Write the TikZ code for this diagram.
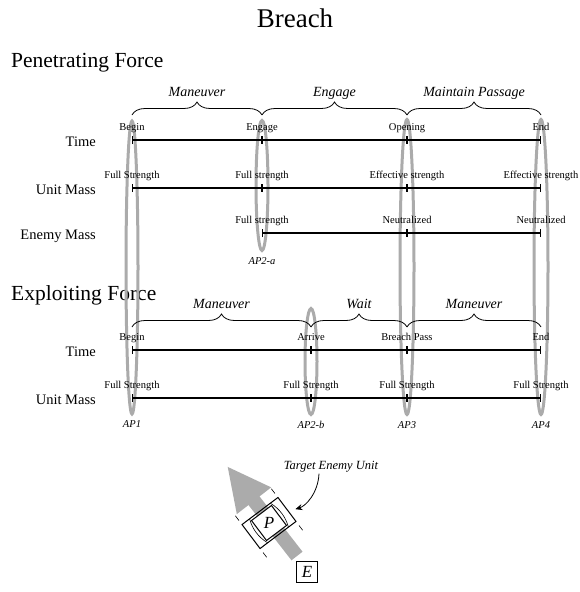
\documentclass[tikz,border=0pt]{standalone}
\usepackage{fontspec}
\setmainfont{Liberation Serif}
\usepackage{tikz}
\usetikzlibrary{shapes.geometric, arrows.meta, positioning, decorations.pathreplacing}
\definecolor{RingGray}{HTML}{ABABAB}

\tikzset{
  rowlabel/.style={anchor=base east, inner sep=0pt, font=\fontsize{14.5}{14.5}\selectfont},
  ticklabel/.style={anchor=base, inner sep=0pt, yshift=10pt, font=\fontsize{10.5}{10.5}\selectfont},
  phaselabel/.style={anchor=base, inner sep=0pt, yshift=18.5pt, font=\fontsize{14}{14}\selectfont\itshape},
  timeline/.style={line width=1.2pt, {Bar[width=8pt]}-{Bar[width=8pt]}},
  phasebrace/.style={decorate, decoration={brace, amplitude=13pt}, line width=0.8pt},
  apring/.style={ellipse, draw=RingGray, line width=3pt, inner sep=0pt, minimum width=12pt},
  aplabel/.style={inner sep=0pt, font=\fontsize{10.5}{10.5}\selectfont\itshape}
}

\begin{document}
\begin{tikzpicture}[x=1pt, y=-1pt]
    \useasboundingbox (0,0) rectangle (579,592);

    % titles
    \node[anchor=base, inner sep=0pt, font=\fontsize{27}{27}\selectfont] (title) at (295,27) {Breach};
    \node[anchor=base west, inner sep=0pt, font=\fontsize{21.5}{21.5}\selectfont] (pentitle) at (11,67) {Penetrating Force};
    \node[anchor=base west, inner sep=0pt, font=\fontsize{21.5}{21.5}\selectfont] (exptitle) at (11,300) {Exploiting Force};

    % action points
    \node[apring, minimum height=293pt] (ap1) at (132,267.5) {};
    \node[apring, minimum height=130pt] (ap2a) at (262,185.5) {};
    \node[apring, minimum height=106pt] (ap2b) at (311,361.5) {};
    \node[apring, minimum width=14pt, minimum height=295pt] (ap3) at (407,267) {};
    \node[apring, minimum width=14pt, minimum height=295pt] (ap4) at (541,267) {};
    \node[aplabel, below=5pt of ap1] (ap1lbl) {AP1};
    \node[aplabel, below=5pt of ap2a] (ap2albl) {AP2-a};
    \node[aplabel, below=5pt of ap2b] (ap2blbl) {AP2-b};
    \node[aplabel, below=5pt of ap3] (ap3lbl) {AP3};
    \node[aplabel, below=5pt of ap4] (ap4lbl) {AP4};

    % penetrating force
    \coordinate (pt1) at (132,140);
    \coordinate (pt2) at (262,140);
    \coordinate (pt3) at (407,140);
    \coordinate (pt4) at (541,140);
    \coordinate (pu1) at (132,188);
    \coordinate (pu2) at (262,188);
    \coordinate (pu3) at (407,188);
    \coordinate (pu4) at (541,188);
    \coordinate (pe2) at (262,233);
    \coordinate (pe3) at (407,233);
    \coordinate (pe4) at (541,233);

    \node[rowlabel] (ptime) at (96,146) {Time};
    \node[rowlabel] (punit) at (96,194) {Unit Mass};
    \node[rowlabel] (penemy) at (96,239) {Enemy Mass};

    \draw[timeline] (pt1) -- (pt2);
    \draw[timeline] (pt2) -- (pt3);
    \draw[timeline] (pt3) -- (pt4);
    \draw[timeline] (pu1) -- (pu2);
    \draw[timeline] (pu2) -- (pu3);
    \draw[timeline] (pu3) -- (pu4);
    \draw[timeline] (pe2) -- (pe3);
    \draw[timeline] (pe3) -- (pe4);

    \node[ticklabel] (ptl1) at (pt1) {Begin};
    \node[ticklabel] (ptl2) at (pt2) {Engage};
    \node[ticklabel] (ptl3) at (pt3) {Opening};
    \node[ticklabel] (ptl4) at (pt4) {End};
    \node[ticklabel] (pul1) at (pu1) {Full Strength};
    \node[ticklabel] (pul2) at (pu2) {Full strength};
    \node[ticklabel] (pul3) at (pu3) {Effective strength};
    \node[ticklabel] (pul4) at (pu4) {Effective strength};
    \node[ticklabel] (pel2) at (pe2) {Full strength};
    \node[ticklabel] (pel3) at (pe3) {Neutralized};
    \node[ticklabel] (pel4) at (pe4) {Neutralized};

    \draw[phasebrace] ([yshift=25pt]pt1) -- node[phaselabel] (pph1) {Maneuver} ([yshift=25pt]pt2);
    \draw[phasebrace] ([yshift=25pt]pt2) -- node[phaselabel] (pph2) {Engage} ([yshift=25pt]pt3);
    \draw[phasebrace] ([yshift=25pt]pt3) -- node[phaselabel] (pph3) {Maintain Passage} ([yshift=25pt]pt4);

    % exploiting force
    \coordinate (xt1) at (132,350);
    \coordinate (xt2) at (311,350);
    \coordinate (xt3) at (407,350);
    \coordinate (xt4) at (541,350);
    \coordinate (xu1) at (132,398);
    \coordinate (xu2) at (311,398);
    \coordinate (xu3) at (407,398);
    \coordinate (xu4) at (541,398);

    \node[rowlabel] (xtime) at (96,356) {Time};
    \node[rowlabel] (xunit) at (96,404) {Unit Mass};

    \draw[timeline] (xt1) -- (xt2);
    \draw[timeline] (xt2) -- (xt3);
    \draw[timeline] (xt3) -- (xt4);
    \draw[timeline] (xu1) -- (xu2);
    \draw[timeline] (xu2) -- (xu3);
    \draw[timeline] (xu3) -- (xu4);

    \node[ticklabel] (xtl1) at (xt1) {Begin};
    \node[ticklabel] (xtl2) at (xt2) {Arrive};
    \node[ticklabel] (xtl3) at (xt3) {Breach Pass};
    \node[ticklabel] (xtl4) at (xt4) {End};
    \node[ticklabel] (xul1) at (xu1) {Full Strength};
    \node[ticklabel] (xul2) at (xu2) {Full Strength};
    \node[ticklabel] (xul3) at (xu3) {Full Strength};
    \node[ticklabel] (xul4) at (xu4) {Full Strength};

    \draw[phasebrace] ([yshift=23pt]xt1) -- node[phaselabel] (xph1) {Maneuver} ([yshift=23pt]xt2);
    \draw[phasebrace] ([yshift=23pt]xt2) -- node[phaselabel] (xph2) {Wait} ([yshift=23pt]xt3);
    \draw[phasebrace] ([yshift=23pt]xt3) -- node[phaselabel] (xph3) {Maneuver} ([yshift=23pt]xt4);

    % breach symbol
    \coordinate (atail) at (297,556);
    \coordinate (ahead) at (227,466);
    \draw[RingGray, line width=14pt, -{Triangle[length=44pt, width=40pt]}] (atail) -- (ahead);
    \node[draw, rotate=37, line width=1pt, minimum width=45pt, minimum height=30pt, inner sep=0pt] (unit) at (269,523) {};
    \node[draw, fill=white, rotate=37, line width=1pt, minimum size=25pt, inner sep=0pt] (psq) at (unit.center) {};
    \node[inner sep=0pt, font=\fontsize{17}{17}\selectfont\itshape] (plbl) at (unit.center) {P};
    \begin{scope}[shift={(unit.center)}, rotate=37, line width=0.6pt]
      \draw (-13,-15) .. controls (-17,-5) and (-17,5) .. (-13,15);
      \draw (13,-15) .. controls (17,-5) and (17,5) .. (13,15);
      \foreach \u/\v/\w in {22.5/-20/-26, -22.5/-20/-26, 22.5/20/26, -22.5/20/26}
        \draw (\u,\v) -- (\u,\w);
    \end{scope}

    \node[inner sep=1pt, font=\fontsize{12.5}{12.5}\selectfont\itshape] (tgt) at (331,467) {Target Enemy Unit};
    \draw[line width=0.8pt, -{Stealth[length=7pt, width=6pt]}] ([xshift=-12pt]tgt.south) .. controls +(-1,20) and +(10,-3) .. ([xshift=8pt]unit.east);

    \node[draw, line width=1pt, minimum size=21pt, inner sep=0pt, font=\fontsize{17}{17}\selectfont\itshape] (enemy) at (307,572) {E};
\end{tikzpicture}
\end{document}
